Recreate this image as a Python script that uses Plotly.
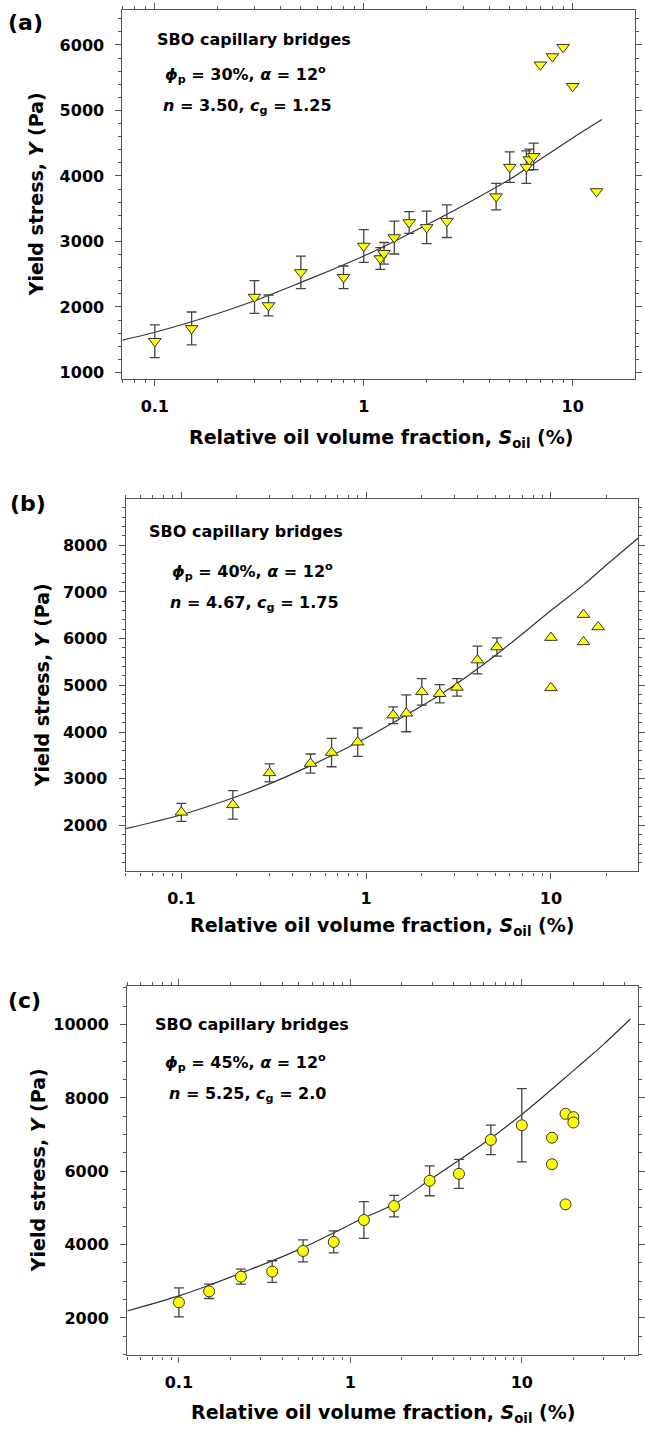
import plotly.graph_objects as go

# ---------------- data ----------------
# Panel (a)  phi_p = 30 %
A_X = [0.1, 0.15, 0.3, 0.35, 0.5, 0.8, 1.0, 1.2, 1.25, 1.4, 1.65, 2.0, 2.5, 4.3, 5.0, 6.0, 6.2, 6.5]
A_Y = [1477, 1673, 2152, 2023, 2528, 2453, 2931, 2740, 2819, 3060, 3290, 3215, 3310, 3685, 4135, 4136, 4250, 4300]
A_ERR = [249, 251, 249, 160, 249, 173, 249, 165, 165, 251, 165, 249, 249, 202, 232, 248, 160, 202]
A_OUT_X = [7.0, 8.0, 9.0, 10.0, 13.0]
A_OUT_Y = [5697, 5823, 5965, 5369, 3763]
A_FIT_X = [0.07, 0.1, 0.15, 0.2, 0.3, 0.5, 0.7, 1, 1.5, 2, 3, 5, 7, 10, 13.8]
A_FIT_Y = [1495, 1615, 1775, 1900, 2095, 2375, 2565, 2778, 3050, 3255, 3550, 3950, 4255, 4580, 4860]

# Panel (b)  phi_p = 40 %
B_X = [0.1, 0.19, 0.3, 0.5, 0.65, 0.9, 1.4, 1.65, 2.0, 2.5, 3.1, 4.0, 5.1]
B_Y = [2280, 2440, 3125, 3325, 3560, 3782, 4360, 4400, 4860, 4820, 4955, 5540, 5820]
B_ERR = [193, 304, 193, 204, 304, 304, 179, 395, 285, 196, 188, 297, 196]
B_OUT_X = [10, 10, 15, 15, 18]
B_OUT_Y = [6021, 4945, 6513, 5929, 6249]
B_FIT_X = [0.05, 0.1, 0.2, 0.3, 0.5, 1, 1.5, 2.5, 5, 10, 15, 20, 30]
B_FIT_Y = [1930, 2229, 2620, 2890, 3280, 3871, 4270, 4790, 5640, 6600, 7150, 7580, 8170]

# Panel (c)  phi_p = 45 %
C_X = [0.1, 0.15, 0.23, 0.35, 0.53, 0.8, 1.2, 1.8, 2.9, 4.3, 6.6, 10]
C_Y = [2425, 2725, 3125, 3265, 3827, 4073, 4670, 5050, 5740, 5930, 6855, 7253]
C_ERR = [395, 195, 205, 295, 300, 300, 500, 293, 408, 395, 400, 1000]
C_OUT_X = [15, 15, 18, 18, 20, 20]
C_OUT_Y = [6914, 6190, 7566, 5096, 7475, 7330]
C_FIT_X = [0.05, 0.1, 0.15, 0.23, 0.35, 0.53, 0.8, 1.2, 1.8, 2.9, 4.3, 6.6, 10, 13, 17, 22, 30, 43]
C_FIT_Y = [2190, 2600, 2890, 3225, 3555, 3918, 4320, 4730, 5100, 5760, 6300, 6900, 7548, 7990, 8460, 8910, 9460, 10150]

X_TICKS = [0.1, 1, 10]
X_TICK_TEXT = ["0.1", "1", "10"]
X_MINOR = [0.02, 0.03, 0.04, 0.05, 0.06, 0.07, 0.08, 0.09,
           0.2, 0.3, 0.4, 0.5, 0.6, 0.7, 0.8, 0.9,
           2, 3, 4, 5, 6, 7, 8, 9, 20, 30, 40, 50]

PANEL_LABELS = ["(a)", "(b)", "(c)"]
PHI = ["30%", "40%", "45%"]
N_VALS = ["3.50", "4.67", "5.25"]
CG_VALS = ["1.25", "1.75", "2.0"]
MARKERS = ["triangle-down", "triangle-up", "circle"]

# ---------------- styling ----------------
W, H = 645, 1431
FONT = "DejaVu Sans"
AXC = "#555555"
YELLOW = "#FFFF00"

panels = [
    dict(x=A_X, y=A_Y, e=A_ERR, ox=A_OUT_X, oy=A_OUT_Y, fx=A_FIT_X, fy=A_FIT_Y,
         px=(123.4, 639.7), py=(10, 380), xr=[-1.155, 1.297], yr=[898, 6533],
         ydt=1000, ymin=200),
    dict(x=B_X, y=B_Y, e=B_ERR, ox=B_OUT_X, oy=B_OUT_Y, fx=B_FIT_X, fy=B_FIT_Y,
         px=(126.7, 643), py=(500, 873.3), xr=[-1.301, 1.471], yr=[1014, 8990],
         ydt=1000, ymin=200),
    dict(x=C_X, y=C_Y, e=C_ERR, ox=C_OUT_X, oy=C_OUT_Y, fx=C_FIT_X, fy=C_FIT_Y,
         px=(128.3, 643), py=(988.3, 1358.3), xr=[-1.301, 1.678], yr=[977, 11045],
         ydt=2000, ymin=500),
]

fig = go.Figure()
layout = dict(
    width=W, height=H, margin=dict(l=0, r=0, t=0, b=0),
    paper_bgcolor="white", plot_bgcolor="white", showlegend=False,
    font=dict(family=FONT, color="black"),
)
annotations = []

def fx(px):
    return px / W

def fy(py):
    return 1 - py / H

for i, p in enumerate(panels):
    sfx = "" if i == 0 else str(i + 1)
    xa, ya = "x" + sfx, "y" + sfx
    size = 11
    fig.add_trace(go.Scatter(
        x=p["fx"], y=p["fy"], mode="lines", xaxis=xa, yaxis=ya,
        line=dict(color="#333333", width=1.2, shape="spline", smoothing=0.8),
        hoverinfo="skip"))
    fig.add_trace(go.Scatter(
        x=p["x"], y=p["y"], mode="markers", xaxis=xa, yaxis=ya,
        error_y=dict(type="data", array=p["e"], color="#444444", thickness=1.3, width=5),
        marker=dict(symbol=MARKERS[i], size=size, color=YELLOW,
                    line=dict(color="#333333", width=1))))
    fig.add_trace(go.Scatter(
        x=p["ox"], y=p["oy"], mode="markers", xaxis=xa, yaxis=ya,
        marker=dict(symbol=MARKERS[i], size=size, color=YELLOW,
                    line=dict(color="#333333", width=1))))

    layout["xaxis" + sfx] = dict(
        type="log", range=p["xr"], domain=[fx(p["px"][0]), fx(p["px"][1])],
        anchor=ya, tickmode="array", tickvals=X_TICKS, ticktext=X_TICK_TEXT,
        ticks="outside", ticklen=6, tickwidth=1, tickcolor=AXC,
        showline=True, linecolor=AXC, linewidth=1.2, mirror="ticks",
        showgrid=False, zeroline=False, ticklabelstandoff=6,
        tickfont=dict(family=FONT, size=16, color="black", weight="bold"),
        minor=dict(tickmode="array", tickvals=X_MINOR, ticks="outside",
                   ticklen=3, tickcolor=AXC, showgrid=False),
    )
    layout["yaxis" + sfx] = dict(
        range=p["yr"], domain=[fy(p["py"][1]), fy(p["py"][0])],
        anchor=xa, dtick=p["ydt"], tick0=0, tickformat="d",
        ticks="outside", ticklen=6, tickwidth=1, tickcolor=AXC,
        showline=True, linecolor=AXC, linewidth=1.2, mirror="ticks",
        showgrid=False, zeroline=False, ticklabelstandoff=8,
        tickfont=dict(family=FONT, size=16, color="black", weight="bold"),
        minor=dict(dtick=p["ymin"], tick0=0, ticks="outside", ticklen=3,
                   tickcolor=AXC, showgrid=False),
    )

# text placement (pixels)
label_pos = [(6, 23), (8, 505), (6, 1003)]
ytitle_pos = [(36, 195), (42, 687), (38, 1173)]
xtitle_pos = [(384, 439), (385, 928), (386, 1416)]
inset_pos = [
    [(156, 40), (164, 75), (162, 107)],
    [(148, 533), (171, 573), (169, 605)],
    [(154, 1027), (164, 1065), (168, 1097)],
]

for i in range(3):
    lx, ly = label_pos[i]
    annotations.append(dict(text="<b>%s</b>" % PANEL_LABELS[i], x=fx(lx), y=fy(ly),
                            xref="paper", yref="paper", xanchor="left", yanchor="middle",
                            showarrow=False, font=dict(family=FONT, size=22, color="black")))
    tx, ty = ytitle_pos[i]
    annotations.append(dict(text="<b>Yield stress, <i>Y</i> (Pa)</b>", x=fx(tx), y=fy(ty),
                            xref="paper", yref="paper", xanchor="center", yanchor="middle",
                            textangle=-90, showarrow=False,
                            font=dict(family=FONT, size=19, color="black")))
    tx, ty = xtitle_pos[i]
    annotations.append(dict(text="<b>Relative oil volume fraction, <i>S</i><sub>oil</sub> (%)</b>",
                            x=fx(tx), y=fy(ty), xref="paper", yref="paper",
                            xanchor="center", yanchor="middle", showarrow=False,
                            font=dict(family=FONT, size=19, color="black")))
    lines = [
        "<b>SBO capillary bridges</b>",
        "<b><i>ϕ</i><sub>p</sub> = %s, <i>α</i> = 12<sup>o</sup></b>" % PHI[i],
        "<b><i>n</i> = %s, <i>c</i><sub>g</sub> = %s</b>" % (N_VALS[i], CG_VALS[i]),
    ]
    for (ax_, ay_), t in zip(inset_pos[i], lines):
        annotations.append(dict(text=t, x=fx(ax_), y=fy(ay_), xref="paper", yref="paper",
                                xanchor="left", yanchor="middle", showarrow=False,
                                font=dict(family=FONT, size=16, color="black")))

layout["annotations"] = annotations
fig.update_layout(**layout)
fig.write_html("out.html")
